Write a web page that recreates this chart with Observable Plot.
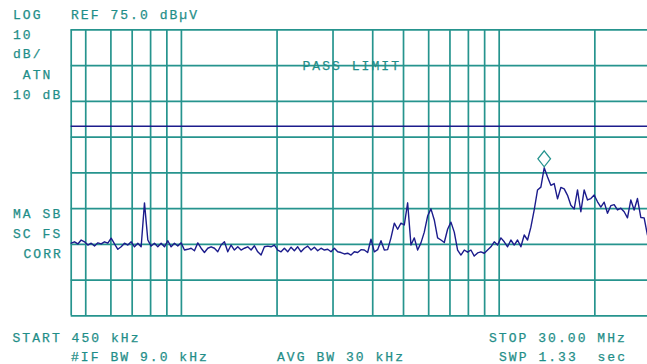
<!DOCTYPE html>
<html>
<head>
<meta charset="utf-8">
<script src="https://cdn.jsdelivr.net/npm/d3@7"></script>
<script src="https://cdn.jsdelivr.net/npm/@observablehq/plot@0.6"></script>
<style>
  html, body { margin: 0; padding: 0; background: #fff; overflow: hidden; }
  #chart { width: 647px; height: 364px; overflow: hidden; }
  text.ann { font-family: "Liberation Mono", "DejaVu Sans Mono", monospace; font-size: 13px; letter-spacing: 2.05px; fill: #1f8e88; stroke: #1f8e88; stroke-width: 0.25px; white-space: pre; text-anchor: start; }
</style>
</head>
<body>
<div id="chart"></div>
<script>
// Sweep settings (MHz) and reference
const startMHz = 0.45;
const stopMHz = 30;
const refLevel = 75;      // dBµV, top of screen
const dbPerDiv = 10;
const divisions = 8;
const limitLevel = 48;    // PASS LIMIT line, dBµV

const levels = [
  15.3, 15.7, 15.1, 16.2, 15.7, 14.8, 15.3, 14.5, 15.4, 15.1,
  15.7, 15.3, 16.7, 15.1, 13.6, 14.3, 15.3, 14.8, 15.7, 14.3,
  15.3, 14.3, 26.6, 16.2, 14.5, 15.3, 14.3, 15.3, 14.3, 16.0,
  14.3, 15.3, 14.5, 15.4, 13.4, 13.6, 13.9, 13.2, 15.4, 13.9,
  12.7, 13.9, 14.3, 13.9, 12.9, 14.8, 15.7, 12.9, 14.8, 13.4,
  14.3, 13.4, 13.9, 14.3, 13.4, 14.6, 12.9, 12.0, 14.3, 14.5,
  14.3, 14.8, 13.4, 12.9, 13.9, 12.9, 14.2, 13.2, 14.3, 12.9,
  13.9, 14.5, 13.4, 14.2, 13.2, 13.9, 13.4, 13.6, 12.9, 13.9,
  12.9, 12.7, 12.3, 12.5, 12.0, 12.9, 12.7, 13.5, 13.4, 12.7,
  16.4, 12.9, 13.5, 16.0, 13.4, 13.5, 16.8, 20.9, 19.2, 20.9,
  20.4, 26.6, 14.8, 16.8, 13.4, 15.4, 18.4, 22.9, 24.9, 21.8,
  16.8, 16.2, 15.5, 19.2, 21.2, 18.4, 13.4, 12.0, 13.4, 12.8,
  13.4, 11.7, 12.6, 12.9, 12.5, 13.4, 14.3, 15.7, 14.8, 16.8,
  15.7, 14.3, 16.2, 14.8, 16.2, 14.3, 17.6, 16.2, 19.8, 24.6,
  30.2, 31.0, 36.4, 33.8, 31.5, 32.0, 27.7, 30.9, 30.5, 28.7,
  25.9, 24.9, 30.2, 24.1, 30.2, 27.4, 27.8, 28.8, 26.9, 25.4,
  26.8, 23.7, 25.8, 26.1, 24.6, 25.1, 24.1, 22.4, 27.4, 24.6,
  27.8, 22.5, 22.4, 17.6, 16.2
];

// Graticule
const freqGrid = [0.45, 0.5, 0.6, 0.7, 0.8, 0.9, 1, 2, 3, 4, 5, 6, 7, 8, 9, 10, 20, 30];
const bottomLevel = refLevel - dbPerDiv * divisions;
const levelGrid = d3.range(divisions + 1).map(k => bottomLevel + k * dbPerDiv);

// Screen annotations
const labelsLeft = [
  {t: "LOG", x: 13, y: 19},
  {t: "REF 75.0 dBµV", x: 71, y: 19},
  {t: "10", x: 13, y: 39},
  {t: "dB/", x: 13, y: 58},
  {t: " ATN", x: 13, y: 79},
  {t: "10 dB", x: 13, y: 99},
  {t: "PASS LIMIT", x: 302.5, y: 70},
  {t: "MA SB", x: 13, y: 218},
  {t: "SC FS", x: 13, y: 238},
  {t: "CORR", x: 23.5, y: 258},
  {t: "START 450 kHz", x: 12.5, y: 342},
  {t: "STOP 30.00 MHz", x: 489, y: 342},
  {t: "#IF BW 9.0 kHz", x: 71, y: 361},
  {t: "AVG BW 30 kHz", x: 277, y: 361},
  {t: "SWP 1.33  sec", x: 499, y: 361}
];

const n = levels.length;
const sweep = levels.map((dB, i) => ({
  freq: startMHz * Math.pow(stopMHz / startMHz, i / (n - 1)),
  dB
}));
const peak = d3.greatest(sweep, d => d.dB);

const narrowDiamond = {
  draw(ctx, size) {
    const r = Math.sqrt(size / Math.PI);
    const h = r * 1.27;
    ctx.moveTo(0, -h);
    ctx.lineTo(r, 0);
    ctx.lineTo(0, h);
    ctx.lineTo(-r, 0);
    ctx.closePath();
  }
};

const gridColor = "#26948e";
const traceColor = "#1c1c8c";

const svg = Plot.plot({
  width: 647,
  height: 364,
  marginLeft: 70.7,
  marginRight: -3.3,
  marginTop: 29.3,
  marginBottom: 48.7,
  style: {background: "#fff", overflow: "hidden"},
  x: {type: "log", domain: [startMHz, stopMHz], axis: null},
  y: {domain: [bottomLevel, refLevel], axis: null},
  marks: [
    Plot.ruleX(freqGrid, {stroke: gridColor, strokeWidth: 1.7}),
    Plot.ruleY(levelGrid, {stroke: gridColor, strokeWidth: 1.7}),
    Plot.ruleY([limitLevel], {stroke: traceColor, strokeWidth: 1.5}),
    Plot.line(sweep, {x: "freq", y: "dB", stroke: traceColor, strokeWidth: 1.4, curve: "linear"}),
    Plot.dot([peak], {x: "freq", y: "dB", dy: -9, r: 6.3, symbol: narrowDiamond, stroke: gridColor, fill: "white", strokeWidth: 1.3})
  ]
});

const s = d3.select(svg);
s.selectAll("text.ann")
  .data(labelsLeft)
  .join("text")
  .attr("class", "ann")
  .attr("text-anchor", "start")
  .attr("x", d => d.x)
  .attr("y", d => d.y)
  .attr("xml:space", "preserve")
  .text(d => d.t);

document.getElementById("chart").appendChild(svg);
</script>
</body>
</html>
